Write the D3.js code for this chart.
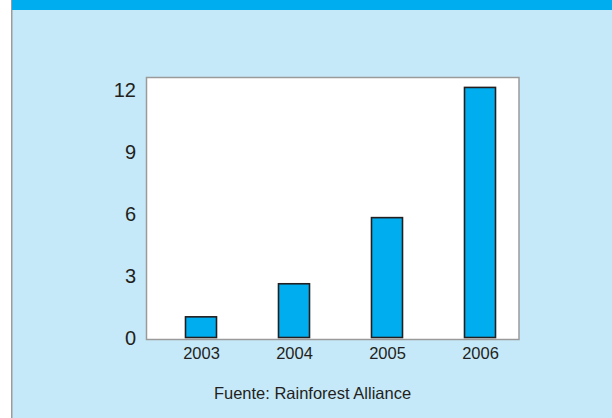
<!DOCTYPE html>
<html>
<head>
<meta charset="utf-8">
<script src="https://cdn.jsdelivr.net/npm/d3@7"></script>
<style>
  html, body { margin: 0; padding: 0; background: #ffffff; }
  svg { display: block; font-family: "Liberation Sans", Arial, sans-serif; }
</style>
</head>
<body>
<svg id="chart" width="612" height="418"></svg>
<script>
// Certified area by year (values per year)
const years = ["2003", "2004", "2005", "2006"];
const values = [1.0, 2.6, 5.8, 12.1];
const yTicks = [0, 3, 6, 9, 12];
const sourceText = "Fuente: Rainforest Alliance";

const svg = d3.select("#chart");
const W = 612, H = 418;

// panel background, left rule and header band
svg.append("rect").attr("x", 12).attr("y", 0).attr("width", W - 12).attr("height", H).attr("fill", "#c6e9f9");
svg.append("rect").attr("x", 11).attr("y", 0).attr("width", 1.5).attr("height", H).attr("fill", "#9c9c9c");
svg.append("rect").attr("x", 12).attr("y", 0).attr("width", W - 12).attr("height", 10).attr("fill", "#00aeef");

// plot frame
const plot = { left: 146.5, top: 77.5, right: 519, bottom: 339.5 };
svg.append("rect")
  .attr("x", plot.left).attr("y", plot.top)
  .attr("width", plot.right - plot.left).attr("height", plot.bottom - plot.top)
  .attr("fill", "#ffffff").attr("stroke", "#9a9a9a").attr("stroke-width", 1.5);

const y = d3.scaleLinear().domain([0, 12]).range([337.5, 89.5]);
const x = d3.scalePoint().domain(years).range([201, 480]);
const barW = 31;

// bars
svg.append("g").selectAll("rect")
  .data(years.map((yr, i) => ({ yr, v: values[i] })))
  .join("rect")
  .attr("x", d => x(d.yr) - barW / 2)
  .attr("y", d => y(d.v))
  .attr("width", barW)
  .attr("height", d => y(0) - y(d.v))
  .attr("fill", "#00aeef")
  .attr("stroke", "#231f20")
  .attr("stroke-width", 1.6);

// y axis labels
const yAxis = d3.axisLeft(y).tickValues(yTicks).tickSize(0).tickPadding(0).tickFormat(d3.format("d"));
const gy = svg.append("g").attr("transform", "translate(136,0)").call(yAxis);
gy.select(".domain").remove();
gy.selectAll("text")
  .attr("font-size", 20)
  .attr("font-family", "'Liberation Sans', Arial, sans-serif")
  .attr("fill", "#231f20")
  .attr("dy", "0.36em");

// x axis labels
const xAxis = d3.axisBottom(x).tickSize(0).tickPadding(0);
const gx = svg.append("g").attr("transform", "translate(0,346.5)").call(xAxis);
gx.select(".domain").remove();
gx.selectAll("text")
  .attr("font-size", 16.5)
  .attr("font-family", "'Liberation Sans', Arial, sans-serif")
  .attr("fill", "#231f20")
  .attr("dy", "0.75em");

// source note
svg.append("text")
  .attr("x", 312.5).attr("y", 399)
  .attr("text-anchor", "middle")
  .attr("font-size", 16.5)
  .attr("fill", "#231f20")
  .text(sourceText);
</script>
</body>
</html>
